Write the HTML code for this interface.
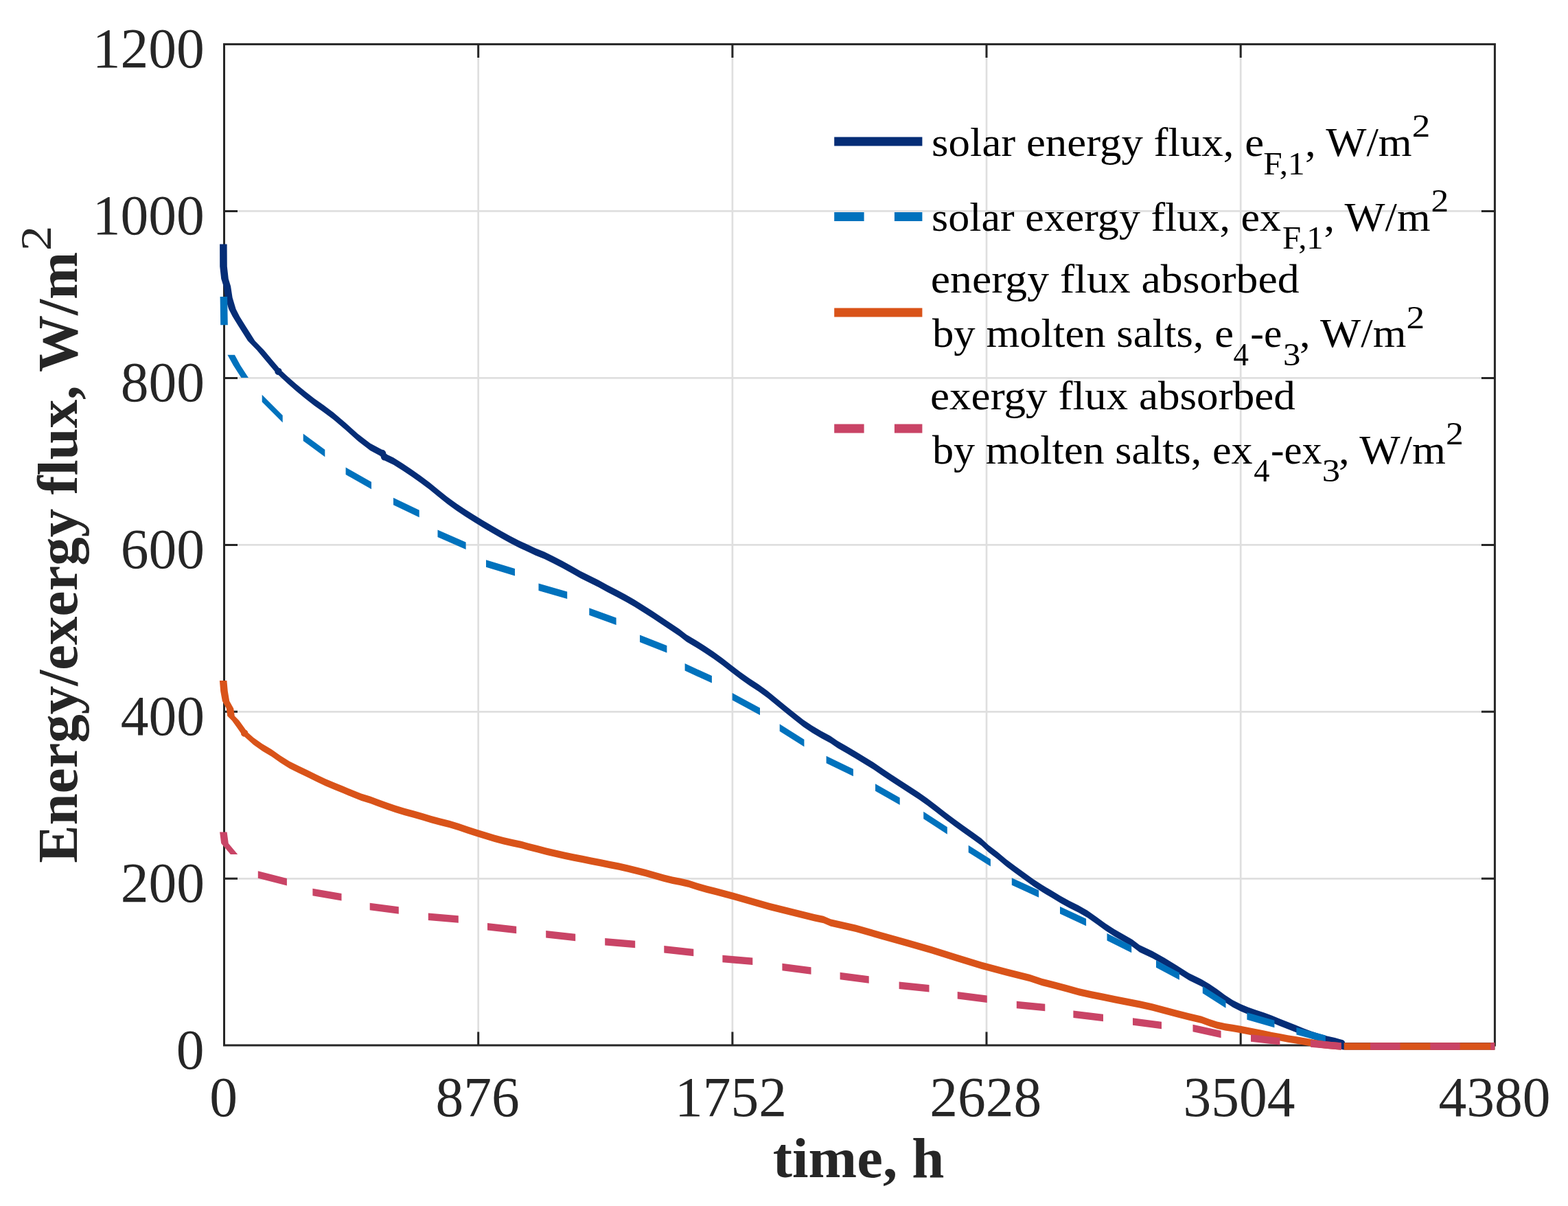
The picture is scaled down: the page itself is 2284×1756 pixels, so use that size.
<!DOCTYPE html><html><head><meta charset="utf-8"><title>Energy/exergy flux</title><style>html,body{margin:0;padding:0;background:#fff;}svg{display:block;}text{font-family:"Liberation Serif",serif;}</style></head><body>
<svg xmlns="http://www.w3.org/2000/svg" width="2284" height="1756" viewBox="0 0 2284 1756">
<rect width="2284" height="1756" fill="#fff"/>
<path d="M696.7 64.4V1522.0M1066.9 64.4V1522.0M1437.0 64.4V1522.0M1807.2 64.4V1522.0M326.5 1279.3H2177.4M326.5 1036.3H2177.4M326.5 793.4H2177.4M326.5 550.4H2177.4M326.5 307.4H2177.4" stroke="#dfdfdf" stroke-width="2.7" fill="none"/>
<path d="M696.7 1522.0V1502.5M696.7 64.4V83.9M1066.9 1522.0V1502.5M1066.9 64.4V83.9M1437.0 1522.0V1502.5M1437.0 64.4V83.9M1807.2 1522.0V1502.5M1807.2 64.4V83.9M326.5 1279.3H346.0M2177.4 1279.3H2157.9M326.5 1036.3H346.0M2177.4 1036.3H2157.9M326.5 793.4H346.0M2177.4 793.4H2157.9M326.5 550.4H346.0M2177.4 550.4H2157.9M326.5 307.4H346.0M2177.4 307.4H2157.9" stroke="#262626" stroke-width="3" fill="none"/>
<rect x="326.5" y="64.4" width="1850.9" height="1457.6" stroke="#262626" stroke-width="3" fill="none"/>
<path d="M400.2,540.8a5.25,5.25 0 1,1 10.50,0a5.25,5.25 0 1,1 -10.50,0ZM551.8,660.1a5.25,5.25 0 1,1 10.50,0a5.25,5.25 0 1,1 -10.50,0ZM554.8,665.3a5.25,5.25 0 1,1 10.50,0a5.25,5.25 0 1,1 -10.50,0ZM1948.8,1519.0a5.25,5.25 0 1,1 10.50,0a5.25,5.25 0 1,1 -10.50,0ZM1951.8,1523.3a5.25,5.25 0 1,1 10.50,0a5.25,5.25 0 1,1 -10.50,0ZM330.6,355.5L330.8,388.0L320.2,388.0L320.1,355.5ZM330.8,388.0L332.8,406.0L322.2,406.0L320.2,388.0ZM332.8,406.0L336.1,416.7L325.6,416.7L322.2,406.0ZM336.1,416.7L338.6,433.3L328.1,433.3L325.6,416.7ZM338.6,433.3L343.6,450.0L333.1,450.0L328.1,433.3ZM343.6,450.0L349.2,461.0L338.8,461.0L333.1,450.0ZM349.2,461.0L358.4,475.7L347.9,475.7L338.8,461.0ZM358.4,475.7L371.4,496.2L360.9,496.2L347.9,475.7ZM371.4,496.2L384.6,509.8L374.1,509.8L360.9,496.2ZM384.6,509.8L397.6,525.3L387.1,525.3L374.1,509.8ZM397.6,525.3L410.8,540.8L400.2,540.8L387.1,525.3ZM405.5,535.5L418.6,547.8L418.6,558.2L405.5,546.0ZM418.6,547.8L431.7,559.2L431.7,569.7L418.6,558.2ZM431.7,559.2L444.8,570.0L444.8,580.5L431.7,569.7ZM444.8,570.0L457.9,580.2L457.9,590.7L444.8,580.5ZM457.9,580.2L471.0,589.6L471.0,600.1L457.9,590.7ZM471.0,589.6L485.7,600.6L485.7,611.1L471.0,600.1ZM485.7,600.6L503.6,615.7L503.6,626.2L485.7,611.1ZM503.6,615.7L521.4,631.8L521.4,642.3L503.6,626.2ZM521.4,631.8L539.3,645.6L539.3,656.1L521.4,642.3ZM539.3,645.6L557.0,654.9L557.0,665.4L539.3,656.1ZM562.2,660.1L565.2,665.3L554.8,665.3L551.8,660.1ZM560.0,660.0L573.1,666.2L573.1,676.7L560.0,670.5ZM573.1,666.2L586.2,674.4L586.2,684.9L573.1,676.7ZM586.2,674.4L599.3,683.2L599.3,693.7L586.2,684.9ZM599.3,683.2L612.4,692.4L612.4,702.9L599.3,693.7ZM612.4,692.4L625.5,702.2L625.5,712.7L612.4,702.9ZM625.5,702.2L638.6,713.0L638.6,723.5L625.5,712.7ZM638.6,713.0L651.7,723.5L651.7,734.0L638.6,723.5ZM651.7,723.5L664.8,733.0L664.8,743.5L651.7,734.0ZM664.8,733.0L677.9,741.8L677.9,752.3L664.8,743.5ZM677.9,741.8L691.0,750.0L691.0,760.5L677.9,752.3ZM691.0,750.0L704.0,757.9L704.0,768.4L691.0,760.5ZM704.0,757.9L717.2,765.7L717.2,776.2L704.0,768.4ZM717.2,765.7L730.2,773.2L730.2,783.8L717.2,776.2ZM730.2,773.2L743.3,780.5L743.3,791.0L730.2,783.8ZM743.3,780.5L756.4,787.3L756.4,797.8L743.3,791.0ZM756.4,787.3L769.5,793.2L769.5,803.7L756.4,797.8ZM769.5,793.2L780.0,798.2L780.0,808.7L769.5,803.7ZM780.0,798.2L793.1,803.6L793.1,814.1L780.0,808.7ZM793.1,803.6L806.2,810.0L806.2,820.5L793.1,814.1ZM806.2,810.0L819.3,816.7L819.3,827.2L806.2,820.5ZM819.3,816.7L832.4,823.9L832.4,834.4L819.3,827.2ZM832.4,823.9L845.5,831.4L845.5,841.9L832.4,834.4ZM845.5,831.4L858.6,838.0L858.6,848.5L845.5,841.9ZM858.6,838.0L871.7,844.5L871.7,855.0L858.6,848.5ZM871.7,844.5L884.8,851.7L884.8,862.2L871.7,855.0ZM884.8,851.7L897.9,858.6L897.9,869.1L884.8,862.2ZM897.9,858.6L911.0,865.5L911.0,876.0L897.9,869.1ZM911.0,865.5L924.1,873.0L924.1,883.5L911.0,876.0ZM924.1,873.0L937.2,881.2L937.2,891.7L924.1,883.5ZM937.2,881.2L950.2,889.6L950.2,900.1L937.2,891.7ZM950.2,889.6L963.3,898.2L963.3,908.7L950.2,900.1ZM963.3,898.2L976.4,907.0L976.4,917.5L963.3,908.7ZM976.4,907.0L989.5,915.8L989.5,926.3L976.4,917.5ZM989.5,915.8L1000.0,924.0L1000.0,934.5L989.5,926.3ZM1000.0,924.0L1013.1,931.8L1013.1,942.3L1000.0,934.5ZM1013.1,931.8L1026.2,940.0L1026.2,950.5L1013.1,942.3ZM1026.2,940.0L1039.3,948.8L1039.3,959.3L1026.2,950.5ZM1039.3,948.8L1052.4,958.3L1052.4,968.8L1039.3,959.3ZM1052.4,958.3L1065.5,968.5L1065.5,979.0L1052.4,968.8ZM1065.5,968.5L1078.6,978.6L1078.6,989.1L1065.5,979.0ZM1078.6,978.6L1091.7,987.8L1091.7,998.2L1078.6,989.1ZM1091.7,987.8L1104.8,996.3L1104.8,1006.8L1091.7,998.2ZM1104.8,996.3L1117.9,1005.8L1117.9,1016.3L1104.8,1006.8ZM1117.9,1005.8L1131.0,1016.5L1131.0,1027.0L1117.9,1016.3ZM1131.0,1016.5L1144.1,1027.3L1144.1,1037.8L1131.0,1027.0ZM1144.1,1027.3L1157.2,1037.8L1157.2,1048.3L1144.1,1037.8ZM1157.2,1037.8L1170.2,1048.0L1170.2,1058.5L1157.2,1048.3ZM1170.2,1048.0L1183.3,1056.8L1183.3,1067.3L1170.2,1058.5ZM1183.3,1056.8L1196.4,1064.4L1196.4,1074.9L1183.3,1067.3ZM1196.4,1064.4L1209.5,1071.6L1209.5,1082.1L1196.4,1074.9ZM1209.5,1071.6L1220.0,1078.7L1220.0,1089.2L1209.5,1082.1ZM1220.0,1078.7L1233.1,1086.2L1233.1,1096.7L1220.0,1089.2ZM1233.1,1086.2L1246.2,1094.0L1246.2,1104.5L1233.1,1096.7ZM1246.2,1094.0L1259.3,1101.9L1259.3,1112.4L1246.2,1104.5ZM1259.3,1101.9L1272.4,1110.1L1272.4,1120.6L1259.3,1112.4ZM1272.4,1110.1L1285.5,1118.9L1285.5,1129.4L1272.4,1120.6ZM1285.5,1118.9L1298.6,1127.8L1298.6,1138.2L1285.5,1129.4ZM1298.6,1127.8L1311.7,1136.3L1311.7,1146.8L1298.6,1138.2ZM1311.7,1136.3L1324.8,1144.8L1324.8,1155.3L1311.7,1146.8ZM1324.8,1144.8L1337.9,1153.3L1337.9,1163.8L1324.8,1155.3ZM1337.9,1153.3L1351.0,1162.5L1351.0,1173.0L1337.9,1163.8ZM1351.0,1162.5L1364.1,1172.6L1364.1,1183.1L1351.0,1173.0ZM1364.1,1172.6L1377.2,1182.8L1377.2,1193.2L1364.1,1183.1ZM1377.2,1182.8L1390.2,1192.6L1390.2,1203.1L1377.2,1193.2ZM1390.2,1192.6L1403.3,1202.1L1403.3,1212.6L1390.2,1203.1ZM1403.3,1202.1L1416.4,1211.2L1416.4,1221.7L1403.3,1212.6ZM1416.4,1211.2L1429.5,1220.8L1429.5,1231.3L1416.4,1221.7ZM1429.5,1220.8L1440.0,1230.4L1440.0,1240.9L1429.5,1231.3ZM1440.0,1230.4L1453.1,1240.6L1453.1,1251.1L1440.0,1240.9ZM1453.1,1240.6L1466.2,1251.4L1466.2,1261.9L1453.1,1251.1ZM1466.2,1251.4L1479.3,1261.2L1479.3,1271.7L1466.2,1261.9ZM1479.3,1261.2L1492.4,1270.7L1492.4,1281.2L1479.3,1271.7ZM1492.4,1270.7L1505.5,1280.2L1505.5,1290.7L1492.4,1281.2ZM1505.5,1280.2L1518.6,1288.7L1518.6,1299.2L1505.5,1290.7ZM1518.6,1288.7L1531.7,1296.6L1531.7,1307.1L1518.6,1299.2ZM1531.7,1296.6L1544.8,1304.5L1544.8,1315.0L1531.7,1307.1ZM1544.8,1304.5L1557.9,1311.7L1557.9,1322.2L1544.8,1315.0ZM1557.9,1311.7L1571.0,1318.2L1571.0,1328.7L1557.9,1322.2ZM1571.0,1318.2L1584.1,1325.8L1584.1,1336.2L1571.0,1328.7ZM1584.1,1325.8L1597.2,1334.9L1597.2,1345.4L1584.1,1336.2ZM1597.2,1334.9L1610.2,1344.4L1610.2,1354.9L1597.2,1345.4ZM1610.2,1344.4L1623.3,1352.9L1623.3,1363.4L1610.2,1354.9ZM1623.3,1352.9L1636.4,1360.5L1636.4,1371.0L1623.3,1363.4ZM1636.4,1360.5L1649.5,1368.0L1649.5,1378.5L1636.4,1371.0ZM1649.5,1368.0L1660.0,1375.9L1660.0,1386.4L1649.5,1378.5ZM1660.0,1375.9L1678.6,1384.7L1678.6,1395.2L1660.0,1386.4ZM1678.6,1384.7L1696.4,1394.8L1696.4,1405.2L1678.6,1395.2ZM1696.4,1394.8L1714.3,1405.8L1714.3,1416.3L1696.4,1405.2ZM1714.3,1405.8L1732.0,1416.9L1732.0,1427.4L1714.3,1416.3ZM1732.0,1416.9L1750.0,1425.8L1750.0,1436.3L1732.0,1427.4ZM1750.0,1425.8L1761.4,1432.6L1761.4,1443.1L1750.0,1436.3ZM1761.4,1432.6L1772.9,1440.2L1772.9,1450.8L1761.4,1443.1ZM1772.9,1440.2L1784.3,1448.8L1784.3,1459.3L1772.9,1450.8ZM1784.3,1448.8L1795.8,1456.3L1795.8,1466.8L1784.3,1459.3ZM1795.8,1456.3L1807.2,1462.0L1807.2,1472.5L1795.8,1466.8ZM1807.2,1462.0L1818.6,1466.8L1818.6,1477.3L1807.2,1472.5ZM1818.6,1466.8L1830.0,1470.8L1830.0,1481.3L1818.6,1477.3ZM1830.0,1470.8L1841.5,1474.5L1841.5,1485.0L1830.0,1481.3ZM1841.5,1474.5L1853.0,1478.8L1853.0,1489.3L1841.5,1485.0ZM1853.0,1478.8L1864.4,1483.4L1864.4,1493.9L1853.0,1489.3ZM1864.4,1483.4L1875.9,1488.0L1875.9,1498.5L1864.4,1493.9ZM1875.9,1488.0L1887.3,1492.6L1887.3,1503.1L1875.9,1498.5ZM1887.3,1492.6L1898.7,1497.2L1898.7,1507.7L1887.3,1503.1ZM1898.7,1497.2L1910.0,1501.4L1910.0,1511.9L1898.7,1507.7ZM1910.0,1501.4L1921.6,1505.2L1921.6,1515.7L1910.0,1511.9ZM1921.6,1505.2L1933.0,1508.4L1933.0,1518.9L1921.6,1515.7ZM1933.0,1508.4L1944.5,1511.0L1944.5,1521.5L1933.0,1518.9ZM1944.5,1511.0L1954.0,1513.8L1954.0,1524.2L1944.5,1521.5ZM1959.2,1519.0L1962.2,1523.3L1951.8,1523.3L1948.8,1519.0ZM1957.0,1518.0L2177.4,1518.0L2177.4,1528.5L1957.0,1528.5Z" fill="#052d76"/>
<path d="M331.1,432.0L331.8,473.3L321.2,473.3L320.6,432.0ZM341.9,516.7L350.2,532.0L339.8,532.0L331.4,516.7ZM350.2,532.0L361.9,550.0L351.4,550.0L339.8,532.0ZM381.7,574.8L411.7,604.8L411.7,615.2L381.7,585.2ZM441.7,631.5L473.3,654.8L473.3,665.2L441.7,642.0ZM503.6,680.5L541.0,701.8L541.0,712.2L503.6,691.0ZM573.0,724.8L610.7,742.8L610.7,753.2L573.0,735.2ZM637.5,771.5L678.6,789.4L678.6,799.9L637.5,782.0ZM708.0,815.2L750.0,828.0L750.0,838.5L708.0,825.8ZM784.5,849.5L826.2,861.5L826.2,872.0L784.5,860.0ZM858.3,885.2L897.6,899.5L897.6,910.0L858.3,895.8ZM932.0,924.5L971.4,940.0L971.4,950.5L932.0,935.0ZM997.6,966.1L1036.9,984.0L1036.9,994.5L997.6,976.6ZM1066.7,1009.0L1107.0,1030.8L1107.0,1041.2L1066.7,1019.5ZM1135.7,1054.2L1171.4,1076.8L1171.4,1087.2L1135.7,1064.8ZM1203.6,1100.8L1242.9,1119.8L1242.9,1130.2L1203.6,1111.2ZM1275.0,1141.2L1310.7,1161.5L1310.7,1172.0L1275.0,1151.7ZM1345.2,1181.8L1379.8,1204.2L1379.8,1214.8L1345.2,1192.2ZM1410.7,1230.8L1442.9,1251.0L1442.9,1261.5L1410.7,1241.2ZM1473.8,1278.3L1513.1,1296.2L1513.1,1306.7L1473.8,1288.8ZM1544.0,1320.0L1582.1,1337.8L1582.1,1348.3L1544.0,1330.5ZM1612.5,1359.0L1648.2,1376.8L1648.2,1387.2L1612.5,1369.5ZM1684.0,1398.3L1717.9,1416.2L1717.9,1426.7L1684.0,1408.8ZM1751.8,1435.8L1785.5,1457.2L1785.5,1467.7L1751.8,1446.2ZM1816.4,1474.2L1856.4,1485.8L1856.4,1496.2L1816.4,1484.8ZM1888.4,1496.0L1930.8,1507.5L1930.8,1518.0L1888.4,1506.5Z" fill="#0072bd"/>
<path d="M350.9,1067.5a5.25,5.25 0 1,1 10.50,0a5.25,5.25 0 1,1 -10.50,0ZM330.4,991.0L331.8,1006.4L321.2,1006.4L319.9,991.0ZM331.8,1006.4L334.2,1020.7L323.8,1020.7L321.2,1006.4ZM334.2,1020.7L340.2,1031.4L329.8,1031.4L323.8,1020.7ZM340.2,1031.4L341.8,1042.6L331.2,1042.6L329.8,1031.4ZM341.8,1042.6L348.4,1049.2L337.9,1049.2L331.2,1042.6ZM348.4,1049.2L354.9,1058.3L344.4,1058.3L337.9,1049.2ZM354.9,1058.3L361.4,1067.5L350.9,1067.5L344.4,1058.3ZM356.2,1062.2L369.3,1074.0L369.3,1084.5L356.2,1072.8ZM369.3,1074.0L382.4,1083.2L382.4,1093.8L369.3,1084.5ZM382.4,1083.2L395.5,1091.0L395.5,1101.5L382.4,1093.8ZM395.5,1091.0L408.6,1100.2L408.6,1110.7L395.5,1101.5ZM408.6,1100.2L421.7,1108.4L421.7,1118.9L408.6,1110.7ZM421.7,1108.4L434.8,1115.0L434.8,1125.5L421.7,1118.9ZM434.8,1115.0L447.9,1121.2L447.9,1131.7L434.8,1125.5ZM447.9,1121.2L461.0,1127.7L461.0,1138.2L447.9,1131.7ZM461.0,1127.7L474.1,1134.0L474.1,1144.5L461.0,1138.2ZM474.1,1134.0L487.2,1139.5L487.2,1150.0L474.1,1144.5ZM487.2,1139.5L500.2,1144.8L500.2,1155.2L487.2,1150.0ZM500.2,1144.8L513.3,1150.3L513.3,1160.8L500.2,1155.2ZM513.3,1150.3L526.4,1155.6L526.4,1166.1L513.3,1160.8ZM526.4,1155.6L539.5,1159.5L539.5,1170.0L526.4,1166.1ZM539.5,1159.5L550.0,1163.4L550.0,1173.9L539.5,1170.0ZM550.0,1163.4L563.1,1168.2L563.1,1178.7L550.0,1173.9ZM563.1,1168.2L576.2,1172.8L576.2,1183.3L563.1,1178.7ZM576.2,1172.8L589.3,1176.7L589.3,1187.2L576.2,1183.3ZM589.3,1176.7L602.4,1180.3L602.4,1190.8L589.3,1187.2ZM602.4,1180.3L615.5,1184.0L615.5,1194.5L602.4,1190.8ZM615.5,1184.0L628.6,1187.9L628.6,1198.4L615.5,1194.5ZM628.6,1187.9L641.7,1191.5L641.7,1202.0L628.6,1198.4ZM641.7,1191.5L654.8,1194.8L654.8,1205.3L641.7,1202.0ZM654.8,1194.8L667.9,1198.8L667.9,1209.3L654.8,1205.3ZM667.9,1198.8L681.0,1203.3L681.0,1213.8L667.9,1209.3ZM681.0,1203.3L694.1,1207.6L694.1,1218.1L681.0,1213.8ZM694.1,1207.6L707.2,1211.5L707.2,1222.0L694.1,1218.1ZM707.2,1211.5L720.2,1215.4L720.2,1225.9L707.2,1222.0ZM720.2,1215.4L733.3,1219.0L733.3,1229.5L720.2,1225.9ZM733.3,1219.0L746.4,1222.0L746.4,1232.5L733.3,1229.5ZM746.4,1222.0L759.5,1224.7L759.5,1235.2L746.4,1232.5ZM759.5,1224.7L770.0,1227.8L770.0,1238.2L759.5,1235.2ZM770.0,1227.8L783.1,1231.1L783.1,1241.6L770.0,1238.2ZM783.1,1231.1L796.2,1234.4L796.2,1244.9L783.1,1241.6ZM796.2,1234.4L809.3,1237.6L809.3,1248.1L796.2,1244.9ZM809.3,1237.6L822.4,1240.6L822.4,1251.1L809.3,1248.1ZM822.4,1240.6L835.5,1243.2L835.5,1253.7L822.4,1251.1ZM835.5,1243.2L848.6,1245.8L848.6,1256.3L835.5,1253.7ZM848.6,1245.8L861.7,1248.5L861.7,1259.0L848.6,1256.3ZM861.7,1248.5L874.8,1251.1L874.8,1261.6L861.7,1259.0ZM874.8,1251.1L887.9,1253.7L887.9,1264.2L874.8,1261.6ZM887.9,1253.7L901.0,1256.3L901.0,1266.8L887.9,1264.2ZM901.0,1256.3L914.1,1259.3L914.1,1269.8L901.0,1266.8ZM914.1,1259.3L927.2,1262.5L927.2,1273.0L914.1,1269.8ZM927.2,1262.5L940.2,1265.8L940.2,1276.3L927.2,1273.0ZM940.2,1265.8L953.3,1269.4L953.3,1279.9L940.2,1276.3ZM953.3,1269.4L966.4,1273.3L966.4,1283.8L953.3,1279.9ZM966.4,1273.3L979.5,1276.4L979.5,1286.9L966.4,1283.8ZM979.5,1276.4L990.0,1278.4L990.0,1288.9L979.5,1286.9ZM990.0,1278.4L1003.1,1281.4L1003.1,1291.9L990.0,1288.9ZM1003.1,1281.4L1016.2,1285.7L1016.2,1296.2L1003.1,1291.9ZM1016.2,1285.7L1029.3,1289.5L1029.3,1300.0L1016.2,1296.2ZM1029.3,1289.5L1042.4,1292.8L1042.4,1303.2L1029.3,1300.0ZM1042.4,1292.8L1055.5,1296.2L1055.5,1306.7L1042.4,1303.2ZM1055.5,1296.2L1068.6,1299.8L1068.6,1310.3L1055.5,1306.7ZM1068.6,1299.8L1081.7,1303.4L1081.7,1313.9L1068.6,1310.3ZM1081.7,1303.4L1094.8,1307.2L1094.8,1317.7L1081.7,1313.9ZM1094.8,1307.2L1107.9,1311.0L1107.9,1321.5L1094.8,1317.7ZM1107.9,1311.0L1121.0,1314.7L1121.0,1325.2L1107.9,1321.5ZM1121.0,1314.7L1134.1,1318.0L1134.1,1328.5L1121.0,1325.2ZM1134.1,1318.0L1147.2,1321.2L1147.2,1331.7L1134.1,1328.5ZM1147.2,1321.2L1160.2,1324.5L1160.2,1335.0L1147.2,1331.7ZM1160.2,1324.5L1173.3,1327.8L1173.3,1338.2L1160.2,1335.0ZM1173.3,1327.8L1186.4,1330.9L1186.4,1341.4L1173.3,1338.2ZM1186.4,1330.9L1199.5,1333.8L1199.5,1344.3L1186.4,1341.4ZM1199.5,1333.8L1210.0,1338.3L1210.0,1348.8L1199.5,1344.3ZM1210.0,1338.3L1246.5,1346.5L1246.5,1357.0L1210.0,1348.8ZM1246.5,1346.5L1283.0,1356.9L1283.0,1367.4L1246.5,1357.0ZM1283.0,1356.9L1319.7,1367.2L1319.7,1377.7L1283.0,1367.4ZM1319.7,1367.2L1356.3,1377.7L1356.3,1388.2L1319.7,1377.7ZM1356.3,1377.7L1392.9,1389.2L1392.9,1399.7L1356.3,1388.2ZM1392.9,1389.2L1429.5,1400.4L1429.5,1410.9L1392.9,1399.7ZM1429.5,1400.4L1466.1,1410.3L1466.1,1420.8L1429.5,1410.9ZM1466.1,1410.3L1500.0,1418.7L1500.0,1429.2L1466.1,1420.8ZM1500.0,1418.7L1517.9,1424.7L1517.9,1435.2L1500.0,1429.2ZM1517.9,1424.7L1535.7,1429.2L1535.7,1439.7L1517.9,1435.2ZM1535.7,1429.2L1553.6,1434.1L1553.6,1444.6L1535.7,1439.7ZM1553.6,1434.1L1571.4,1438.9L1571.4,1449.4L1553.6,1444.6ZM1571.4,1438.9L1589.3,1443.0L1589.3,1453.5L1571.4,1449.4ZM1589.3,1443.0L1607.0,1446.6L1607.0,1457.1L1589.3,1453.5ZM1607.0,1446.6L1625.0,1450.2L1625.0,1460.7L1607.0,1457.1ZM1625.0,1450.2L1642.9,1453.7L1642.9,1464.2L1625.0,1460.7ZM1642.9,1453.7L1660.7,1457.2L1660.7,1467.8L1642.9,1464.2ZM1660.7,1457.2L1678.6,1461.2L1678.6,1471.7L1660.7,1467.8ZM1678.6,1461.2L1696.4,1466.0L1696.4,1476.5L1678.6,1471.7ZM1696.4,1466.0L1714.3,1470.7L1714.3,1481.2L1696.4,1476.5ZM1714.3,1470.7L1732.0,1475.2L1732.0,1485.7L1714.3,1481.2ZM1732.0,1475.2L1750.0,1479.5L1750.0,1490.0L1732.0,1485.7ZM1750.0,1479.5L1761.4,1483.7L1761.4,1494.2L1750.0,1490.0ZM1761.4,1483.7L1772.9,1487.5L1772.9,1498.0L1761.4,1494.2ZM1772.9,1487.5L1784.3,1490.0L1784.3,1500.5L1772.9,1498.0ZM1784.3,1490.0L1795.8,1491.8L1795.8,1502.2L1784.3,1500.5ZM1795.8,1491.8L1807.2,1493.8L1807.2,1504.2L1795.8,1502.2ZM1807.2,1493.8L1818.6,1496.1L1818.6,1506.6L1807.2,1504.2ZM1818.6,1496.1L1830.0,1498.3L1830.0,1508.8L1818.6,1506.6ZM1830.0,1498.3L1841.5,1500.6L1841.5,1511.1L1830.0,1508.8ZM1841.5,1500.6L1853.0,1502.9L1853.0,1513.4L1841.5,1511.1ZM1853.0,1502.9L1864.4,1505.1L1864.4,1515.6L1853.0,1513.4ZM1864.4,1505.1L1875.9,1507.2L1875.9,1517.7L1864.4,1515.6ZM1875.9,1507.2L1887.3,1508.9L1887.3,1519.4L1875.9,1517.7ZM1887.3,1508.9L1898.7,1510.9L1898.7,1521.4L1887.3,1519.4ZM1898.7,1510.9L1910.0,1513.0L1910.0,1523.5L1898.7,1521.4ZM1910.0,1513.0L1921.6,1514.9L1921.6,1525.4L1910.0,1523.5ZM1921.6,1514.9L1933.0,1516.6L1933.0,1527.1L1921.6,1525.4ZM1933.0,1516.6L1953.7,1518.2L1953.7,1528.7L1933.0,1527.1ZM1957.7,1518.2L2177.4,1518.2L2177.4,1528.7L1957.7,1528.7Z" fill="#d95319"/>
<path d="M330.6,1211.5L332.8,1228.0L322.2,1228.0L320.1,1211.5ZM332.8,1228.0L346.2,1244.0L335.8,1244.0L322.2,1228.0ZM375.8,1268.2L417.9,1279.0L417.9,1289.5L375.8,1278.7ZM455.4,1293.8L497.5,1301.0L497.5,1311.5L455.4,1304.2ZM538.7,1314.8L580.8,1320.2L580.8,1330.8L538.7,1325.2ZM623.8,1329.5L667.8,1333.2L667.8,1343.7L623.8,1340.0ZM710.0,1344.0L752.2,1348.8L752.2,1359.2L710.0,1354.5ZM795.2,1355.0L838.2,1359.8L838.2,1370.2L795.2,1365.5ZM881.2,1366.0L925.2,1369.8L925.2,1380.2L881.2,1376.5ZM967.3,1377.0L1010.3,1381.7L1010.3,1392.2L967.3,1387.5ZM1052.4,1390.8L1096.3,1394.5L1096.3,1405.0L1052.4,1401.2ZM1139.4,1402.8L1181.5,1408.3L1181.5,1418.8L1139.4,1413.3ZM1223.6,1415.8L1265.7,1421.2L1265.7,1431.8L1223.6,1426.2ZM1309.6,1429.5L1353.5,1434.0L1353.5,1444.5L1309.6,1440.0ZM1394.7,1444.0L1437.8,1449.5L1437.8,1460.0L1394.7,1454.5ZM1480.8,1457.8L1522.3,1461.8L1522.3,1472.2L1480.8,1468.2ZM1563.4,1471.5L1607.0,1476.8L1607.0,1487.2L1563.4,1482.0ZM1650.0,1482.2L1692.0,1487.8L1692.0,1498.2L1650.0,1492.8ZM1737.5,1491.8L1778.6,1500.7L1778.6,1511.2L1737.5,1502.2ZM1822.0,1506.3L1864.4,1511.0L1864.4,1521.5L1822.0,1516.8ZM1909.0,1514.3L1953.7,1518.2L1953.7,1528.7L1909.0,1524.8ZM1996.0,1518.2L2039.4,1518.2L2039.4,1528.7L1996.0,1528.7ZM2083.3,1518.2L2126.6,1518.2L2126.6,1528.7L2083.3,1528.7ZM2171.2,1518.2L2177.0,1518.2L2177.0,1528.7L2171.2,1528.7Z" fill="#c94466"/>
<text x="256.8" y="1556.3" font-size="81.5" fill="#262626">0</text>
<text x="175.8" y="1313.3" font-size="81.5" fill="#262626">200</text>
<text x="175.8" y="1070.3" font-size="81.5" fill="#262626">400</text>
<text x="175.8" y="827.4" font-size="81.5" fill="#262626">600</text>
<text x="175.8" y="584.4" font-size="81.5" fill="#262626">800</text>
<text x="134.8" y="341.4" font-size="81.5" fill="#262626">1000</text>
<text x="134.8" y="98.4" font-size="81.5" fill="#262626">1200</text>
<text x="305.2" y="1624.5" font-size="81.5" fill="#262626">0</text>
<text x="634.4" y="1624.5" font-size="81.5" fill="#262626">876</text>
<text x="983.1" y="1624.5" font-size="81.5" fill="#262626">1752</text>
<text x="1354.2" y="1624.5" font-size="81.5" fill="#262626">2628</text>
<text x="1723.4" y="1624.5" font-size="81.5" fill="#262626">3504</text>
<text x="2095.6" y="1624.5" font-size="81.5" fill="#262626">4380</text>
<text x="1357.1" y="226.7" font-size="60" fill="#000" textLength="484.0" lengthAdjust="spacingAndGlyphs">solar energy flux, e</text>
<text x="1840.2" y="253.5" font-size="47" fill="#000" textLength="60.4" lengthAdjust="spacingAndGlyphs">F,1</text>
<text x="1900.9" y="226.7" font-size="60" fill="#000" textLength="155.8" lengthAdjust="spacingAndGlyphs">, W/m</text>
<text x="2056.7" y="199.1" font-size="47" fill="#000" textLength="26.6" lengthAdjust="spacingAndGlyphs">2</text>
<text x="1357.1" y="335.5" font-size="60" fill="#000" textLength="508.9" lengthAdjust="spacingAndGlyphs">solar exergy flux, ex</text>
<text x="1867.9" y="362.3" font-size="47" fill="#000" textLength="59.9" lengthAdjust="spacingAndGlyphs">F,1</text>
<text x="1928.4" y="335.5" font-size="60" fill="#000" textLength="155.2" lengthAdjust="spacingAndGlyphs">, W/m</text>
<text x="2084.5" y="307.9" font-size="47" fill="#000" textLength="25.7" lengthAdjust="spacingAndGlyphs">2</text>
<text x="1355.8" y="426.2" font-size="60" fill="#000" textLength="536.8" lengthAdjust="spacingAndGlyphs">energy flux absorbed</text>
<text x="1358.0" y="505.2" font-size="60" fill="#000" textLength="439.0" lengthAdjust="spacingAndGlyphs">by molten salts, e</text>
<text x="1796.4" y="532.0" font-size="47" fill="#000" textLength="22.4" lengthAdjust="spacingAndGlyphs">4</text>
<text x="1821.2" y="505.2" font-size="60" fill="#000" textLength="46.1" lengthAdjust="spacingAndGlyphs">-e</text>
<text x="1869.1" y="532.0" font-size="47" fill="#000" textLength="25.4" lengthAdjust="spacingAndGlyphs">3</text>
<text x="1892.9" y="505.2" font-size="60" fill="#000" textLength="155.5" lengthAdjust="spacingAndGlyphs">, W/m</text>
<text x="2048.4" y="477.6" font-size="47" fill="#000" textLength="26.7" lengthAdjust="spacingAndGlyphs">2</text>
<text x="1355.0" y="595.5" font-size="60" fill="#000" textLength="531.9" lengthAdjust="spacingAndGlyphs">exergy flux absorbed</text>
<text x="1358.0" y="674.5" font-size="60" fill="#000" textLength="466.7" lengthAdjust="spacingAndGlyphs">by molten salts, ex</text>
<text x="1826.2" y="701.3" font-size="47" fill="#000" textLength="23.2" lengthAdjust="spacingAndGlyphs">4</text>
<text x="1851.0" y="674.5" font-size="60" fill="#000" textLength="74.7" lengthAdjust="spacingAndGlyphs">-ex</text>
<text x="1925.8" y="701.3" font-size="47" fill="#000" textLength="26.4" lengthAdjust="spacingAndGlyphs">3</text>
<text x="1949.9" y="674.5" font-size="60" fill="#000" textLength="156.1" lengthAdjust="spacingAndGlyphs">, W/m</text>
<text x="2106.1" y="646.9" font-size="47" fill="#000" textLength="25.8" lengthAdjust="spacingAndGlyphs">2</text>
<text x="1125.8" y="1714.0" font-size="82" fill="#262626" font-weight="bold" textLength="249.7" lengthAdjust="spacingAndGlyphs">time, h</text>
<text transform="translate(111.8,1256.7) rotate(-90)" font-size="82" font-weight="bold" fill="#262626" textLength="889.8" lengthAdjust="spacingAndGlyphs">Energy/exergy flux, W/m</text>
<text transform="translate(73.75,365.2) rotate(-90)" font-size="63" fill="#262626" textLength="36.4" lengthAdjust="spacingAndGlyphs">2</text>
<g stroke-width="13" fill="none">
<path d="M1215.2 206H1343.4" stroke="#052d76"/>
<path d="M1215.2 315.5H1258.6M1302.9 315.5H1343.4" stroke="#0072bd"/>
<path d="M1215.2 455H1343.4" stroke="#d95319"/>
<path d="M1215.2 624H1258.6M1302.9 624H1343.4" stroke="#c94466"/>
</g>
</svg></body></html>
